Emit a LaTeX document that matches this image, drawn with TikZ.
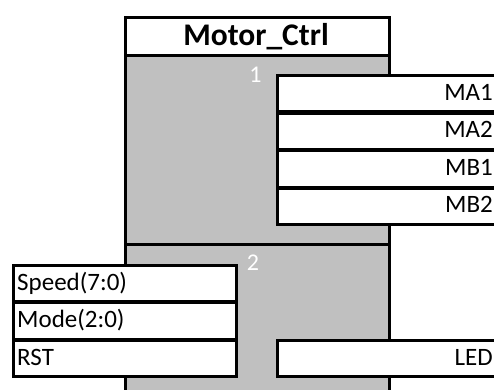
\documentclass[tikz,border=0pt]{standalone}
\usepackage{fontspec}
\setmainfont{Carlito}
\definecolor{bodygray}{HTML}{C0C0C0}
\tikzset{
  bodybox/.style={draw, fill=bodygray, line width=3pt, inner sep=0pt, anchor=north west, minimum width=264pt},
  titlebox/.style={draw, fill=white, line width=3pt, inner sep=0pt, anchor=north west, minimum width=264pt, minimum height=38pt},
  portbox/.style={draw, fill=white, line width=3pt, inner sep=0pt, anchor=north west, minimum height=36.8pt},
  rlabel/.style={font=\fontsize{25}{30}\selectfont, inner sep=0pt, anchor=base east},
  llabel/.style={font=\fontsize{25}{30}\selectfont, inner sep=0pt, anchor=base west},
  numlabel/.style={font=\fontsize{24}{28}\selectfont, text=white, inner sep=0pt, anchor=base},
  titlelabel/.style={font=\bfseries\fontsize{31.5}{36}\selectfont, inner sep=0pt, anchor=base}
}
\begin{document}
\begin{tikzpicture}[x=1pt,y=-1pt]
\useasboundingbox (0,0) rectangle (494,389);
\clip (0,0) rectangle (494,389);
% block body
\node[bodybox, minimum height=190pt] (sec1) at (124,53) {};
\node[bodybox, minimum height=180pt] (sec2) at (124,243) {};
\node[titlebox] (title) at (124,15.5) {};
\node[titlelabel] (titletext) at (256,45) {Motor\_Ctrl};
\node[numlabel] (n1) at (255.5,82.5) {1};
\node[numlabel] (n2) at (253,270.5) {2};
% right ports, section 1
\node[portbox, minimum width=254pt] (ma1) at (275.5,73.5) {};
\node[portbox, minimum width=254pt] (ma2) at (275.5,111.5) {};
\node[portbox, minimum width=254pt] (mb1) at (275.5,149) {};
\node[portbox, minimum width=254pt] (mb2) at (275.5,186.5) {};
\node[rlabel] (ma1t) at (493,100) {MA1};
\node[rlabel] (ma2t) at (493,137.5) {MA2};
\node[rlabel] (mb1t) at (493,175) {MB1};
\node[rlabel] (mb2t) at (493,212.5) {MB2};
% left ports, section 2
\node[portbox, minimum width=223pt] (speed) at (12,263.5) {};
\node[portbox, minimum width=223pt] (mode) at (12,301) {};
\node[portbox, minimum width=223pt] (rst) at (12,338.5) {};
\node[llabel] (speedt) at (17,290) {Speed(7:0)};
\node[llabel] (modet) at (17,327.5) {Mode(2:0)};
\node[llabel] (rstt) at (17,365) {RST};
% right port, section 2
\node[portbox, minimum width=254pt] (led) at (276,338.5) {};
\node[rlabel] (ledt) at (493,365) {LED};
\end{tikzpicture}
\end{document}
